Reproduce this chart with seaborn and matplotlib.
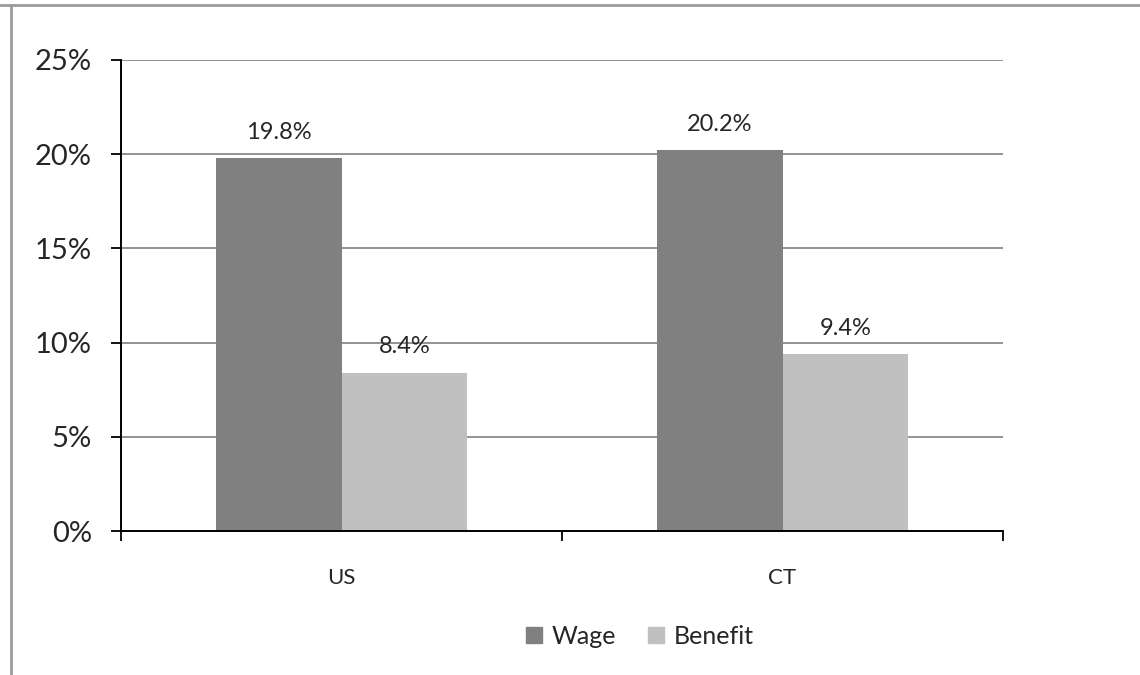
import matplotlib
matplotlib.use("Agg")
import matplotlib.pyplot as plt
import matplotlib.lines as mlines
import seaborn as sns
import pandas as pd

# Wage and benefit growth by area (percent)
areas = ["US", "CT"]
series = ["Wage", "Benefit"]
wage = [19.8, 20.2]
benefit = [8.4, 9.4]
colors = ["#808080", "#c0c0c0"]
y_ticks = [0, 5, 10, 15, 20, 25]

df = pd.DataFrame({
    "area": areas * 2,
    "series": [series[0]] * len(areas) + [series[1]] * len(areas),
    "value": wage + benefit,
})

sns.set_theme(style="white")
plt.rcParams["font.family"] = ["Lato", "DejaVu Sans"]

fig = plt.figure(figsize=(11.4, 6.75), dpi=100)
ax = fig.add_axes([121 / 1140, 1 - 531 / 675, (1003 - 121) / 1140, (531 - 60) / 675])

sns.barplot(data=df, x="area", y="value", hue="series", order=areas,
            hue_order=series, palette=colors, width=0.571, gap=0,
            saturation=1, edgecolor="none", linewidth=0, ax=ax, legend=False)

ax.set_xlim(-0.5, 1.5)
ax.set_ylim(0, 25)
ax.set_yticks(y_ticks)
ax.set_yticklabels([f"{t}%" for t in y_ticks], fontsize=21)
ax.yaxis.grid(True, color="#8a8a8a", linewidth=1.3)
ax.set_axisbelow(True)
ax.tick_params(axis="y", direction="out", length=7, width=1.3, color="black", pad=14, left=True)

# Boundary ticks on the category axis, labels at category centers
ax.set_xticks([-0.5, 0.5, 1.5])
ax.set_xticklabels(["", "", ""])
ax.set_xticks([0, 1], minor=True)
ax.set_xticklabels(areas, minor=True, fontsize=16)
ax.tick_params(axis="x", which="major", direction="out", length=7.5, width=1.3, color="black", bottom=True)
ax.tick_params(axis="x", which="minor", length=0, pad=27)
ax.set_xlabel("")
ax.set_ylabel("")

for side in ["top", "right"]:
    ax.spines[side].set_visible(False)
for side in ["left", "bottom"]:
    ax.spines[side].set_color("black")
    ax.spines[side].set_linewidth(1.4)

for container in ax.containers:
    ax.bar_label(container, fmt="%.1f%%", padding=11, fontsize=17)

handles = [mlines.Line2D([], [], marker="s", linestyle="none", markersize=12,
                         markerfacecolor=c, markeredgecolor=c) for c in colors]
fig.legend(handles, series, loc="center", bbox_to_anchor=(639 / 1140, 1 - 636 / 675),
           ncol=2, frameon=False, fontsize=18, handletextpad=0.3, columnspacing=1.2,
           handlelength=0.8)

# Outer frame lines along the top and left edges
fig.add_artist(mlines.Line2D([0, 1], [1 - 5 / 675] * 2, transform=fig.transFigure,
                             color="#9a9a9a", linewidth=2))
fig.add_artist(mlines.Line2D([11 / 1140] * 2, [0, 1 - 5 / 675], transform=fig.transFigure,
                             color="#9a9a9a", linewidth=2))

fig.savefig("out.png", dpi=100, facecolor="white")
